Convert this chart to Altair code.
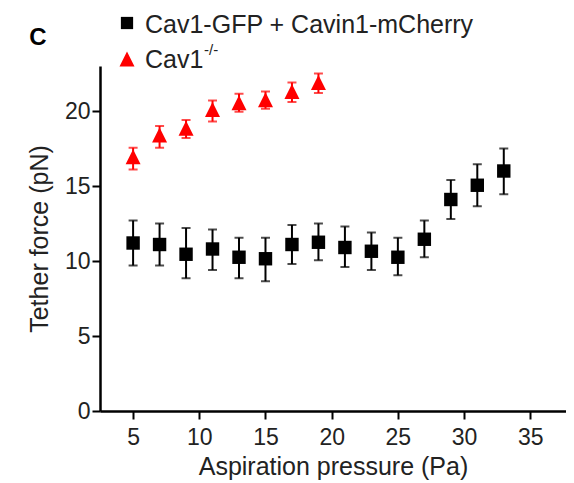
import altair as alt
import pandas as pd

# Cav1-GFP + Cavin1-mCherry (black squares)
pressure_black = [5, 7, 9, 11, 13, 15, 17, 19, 21, 23, 25, 27, 29, 31, 33]
force_black = [11.2, 11.1, 10.45, 10.8, 10.25, 10.15, 11.1, 11.25, 10.9, 10.65, 10.25, 11.45, 14.1, 15.05, 16.0]
low_black = [9.7, 9.7, 8.85, 9.4, 8.85, 8.65, 9.8, 10.05, 9.6, 9.4, 9.05, 10.25, 12.8, 13.65, 14.45]
high_black = [12.7, 12.5, 12.2, 12.1, 11.55, 11.55, 12.4, 12.5, 12.3, 11.9, 11.55, 12.7, 15.4, 16.45, 17.5]

# Cav1-/- (red triangles)
pressure_red = [5, 7, 9, 11, 13, 15, 17, 19]
force_red = [16.95, 18.4, 18.85, 20.1, 20.55, 20.75, 21.3, 21.9]
low_red = [16.1, 17.55, 18.2, 19.3, 19.95, 20.15, 20.6, 21.2]
high_red = [17.55, 19.0, 19.4, 20.7, 21.15, 21.3, 21.9, 22.5]

x_ticks = [5, 10, 15, 20, 25, 30, 35]
y_ticks = [0, 5, 10, 15, 20]

FONT = "Liberation Sans"
RED = "#ff0000"
TRI = "M0,-1L1,1L-1,1Z"

black = pd.DataFrame({"p": pressure_black, "f": force_black, "lo": low_black, "hi": high_black})
red = pd.DataFrame({"p": pressure_red, "f": force_red, "lo": low_red, "hi": high_red})

xs = alt.Scale(domain=[2.5, 37.7], nice=False, zero=False)
ys = alt.Scale(domain=[0, 23], nice=False)

x_enc = alt.X("p:Q", scale=xs, title="Aspiration pressure (Pa)",
              axis=alt.Axis(values=x_ticks, grid=False, tickSize=8, tickWidth=2,
                            domainWidth=2.5, domainColor="black", tickColor="black",
                            labelFontSize=23, labelFont=FONT, labelColor="#222",
                            labelPadding=7, titleFontSize=25, titleFont=FONT,
                            titleFontWeight="normal", titleColor="#222", titlePadding=5))
y_enc = alt.Y("f:Q", scale=ys, title="Tether force (pN)",
              axis=alt.Axis(values=y_ticks, grid=False, tickSize=8, tickWidth=2,
                            domainWidth=2.5, domainColor="black", tickColor="black",
                            labelFontSize=23, labelFont=FONT, labelColor="#222",
                            labelPadding=2, titleFontSize=25, titleFont=FONT,
                            titleFontWeight="normal", titleColor="#222", titlePadding=12))


def series(df, color, shape, size):
    base = alt.Chart(df)
    rule = base.mark_rule(color=color, strokeWidth=2).encode(x=x_enc, y="lo:Q", y2="hi:Q")
    cap_lo = base.mark_tick(color=color, orient="horizontal", size=9, thickness=2).encode(x="p:Q", y="lo:Q")
    cap_hi = base.mark_tick(color=color, orient="horizontal", size=9, thickness=2).encode(x="p:Q", y="hi:Q")
    pts = base.mark_point(color=color, filled=True, opacity=1, shape=shape, size=size).encode(x="p:Q", y=y_enc)
    return [rule, cap_lo, cap_hi, pts]


legend_df = pd.DataFrame({"k": [0]})
leg = alt.Chart(legend_df)
legend_layers = [
    leg.mark_point(shape="square", filled=True, opacity=1, color="black", size=150).encode(
        x=alt.value(27), y=alt.value(-43)),
    leg.mark_text(text="Cav1-GFP + Cavin1-mCherry", align="left", baseline="middle",
                  font=FONT, fontSize=25, color="#222").encode(x=alt.value(45), y=alt.value(-41)),
    leg.mark_point(shape=TRI, filled=True, opacity=1, color=RED, size=225).encode(
        x=alt.value(27), y=alt.value(-7)),
    leg.mark_text(text="Cav1", align="left", baseline="middle",
                  font=FONT, fontSize=25, color="#222").encode(x=alt.value(45), y=alt.value(-6)),
    leg.mark_text(text="-/-", align="left", baseline="middle",
                  font=FONT, fontSize=15, color="#222").encode(x=alt.value(104), y=alt.value(-16)),
    leg.mark_text(text="C", align="center", baseline="middle", fontWeight="bold",
                  font=FONT, fontSize=24, color="black").encode(x=alt.value(-62), y=alt.value(-28)),
]

chart = alt.layer(
    *series(black, "black", "square", 180),
    *series(red, RED, TRI, 225),
    *legend_layers,
).properties(
    width=466, height=345,
    padding={"left": 92, "top": 58, "right": 0, "bottom": 70},
    autosize=alt.AutoSizeParams(type="none"),
).configure_view(stroke=None)

chart.save("out.html", embed_options={"renderer": "svg", "actions": False})
